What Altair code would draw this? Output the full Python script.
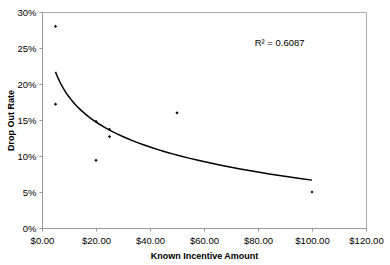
import altair as alt
import pandas as pd

incentive = [5, 5, 20, 20, 25, 25, 50, 100]
dropout = [0.280, 0.172, 0.148, 0.094, 0.137, 0.127, 0.160, 0.050]
r2_label = ["R\u00b2 = 0.6087"]
r2_pos_x = [88]
r2_pos_y = [0.257]
x_ticks = [0, 20, 40, 60, 80, 100, 120]
y_ticks = [0, 0.05, 0.10, 0.15, 0.20, 0.25, 0.30]

df = pd.DataFrame({"x": incentive, "y": dropout})
lab = pd.DataFrame({"x": r2_pos_x, "y": r2_pos_y, "t": r2_label})

FONT = "Liberation Sans"

xenc = alt.X("x:Q", scale=alt.Scale(domain=[0, 120], nice=False),
             axis=alt.Axis(values=x_ticks, format="$.2f",
                           title="Known Incentive Amount", grid=False,
                           labelOverlap=False, labelFlush=False,
                           titleX=162, titleY=27, titleBaseline="middle", titleAlign="center"))
yenc = alt.Y("y:Q", scale=alt.Scale(domain=[0, 0.30], nice=False),
             axis=alt.Axis(values=y_ticks, format=".0%",
                           title="Drop Out Rate", grid=False,
                           labelOverlap=False, labelFlush=False,
                           titleX=-32, titleY=108, titleAngle=270,
                           titleBaseline="middle", titleAlign="center"))

points = alt.Chart(df).mark_point(shape="diamond", filled=True, color="black", size=10, opacity=1).encode(
    x=xenc, y=yenc)

trend = alt.Chart(df).transform_regression("x", "y", method="log", extent=[5, 100]).mark_line(
    color="black", strokeWidth=1.5).encode(x=xenc, y=yenc)

text = alt.Chart(lab).mark_text(font=FONT, fontSize=9.5, color="black").encode(
    x=xenc, y=yenc, text="t:N")

chart = alt.layer(points, trend, text).properties(
    width=324, height=216,
    autosize=alt.AutoSizeParams(type="none"),
    padding={"left": 42, "top": 12, "right": 24, "bottom": 37},
).configure_view(stroke="#aaaaaa", strokeWidth=1).configure_axis(
    labelFont=FONT, labelFontSize=9.5, labelColor="black",
    titleFont=FONT, titleFontSize=9, titleFontWeight="bold", titleColor="black",
    domainColor="#999999", tickColor="#999999", tickSize=3, labelPadding=3,
    labelOverlap=False,
).configure_axisX(labelPadding=4)

chart.save("out.html", embed_options={"renderer": "svg", "actions": False})
